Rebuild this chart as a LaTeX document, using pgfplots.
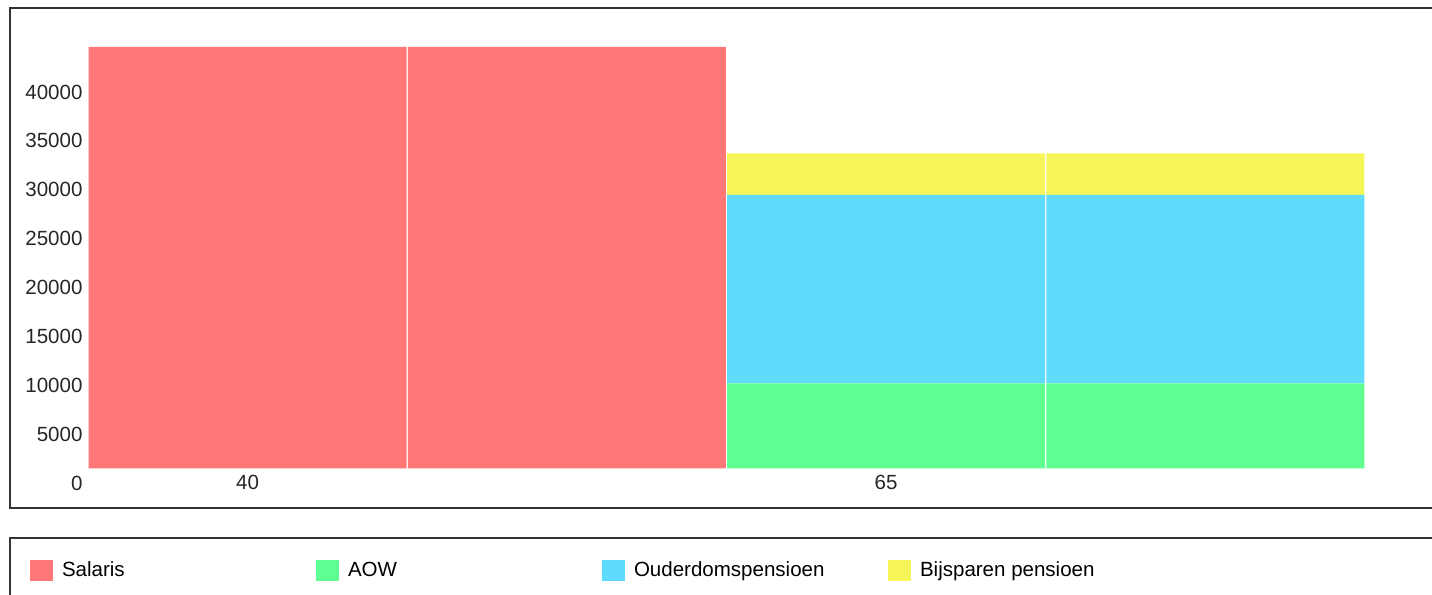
\documentclass[border=0pt]{standalone}
\usepackage{pgfplots}
\pgfplotsset{compat=1.18}
\usepackage{fontspec}
\setmainfont{Liberation Sans}
\definecolor{salaris}{HTML}{FF7777}
\definecolor{aow}{HTML}{60FF92}
\definecolor{ouderdom}{HTML}{5EDBFF}
\definecolor{bijsparen}{HTML}{F5F55A}
\definecolor{framec}{HTML}{333333}
\newcommand{\chartfont}{\fontsize{20.6}{24}\selectfont}
\begin{document}
\begin{tikzpicture}
\useasboundingbox (0,0) rectangle (1432bp,595bp);
% outer chart frame and legend frame (both run past the right edge)
\draw[line width=1.6bp, framec] (10bp,87bp) rectangle (1460bp,587bp);
\draw[line width=1.6bp, framec] (10bp,-30bp) rectangle (1460bp,57bp);
\begin{axis}[
  at={(88bp,126.7bp)}, anchor=south west, scale only axis,
  width=1277bp, height=439.9bp,
  xmin=-0.5, xmax=3.5, ymin=0, ymax=45000,
  ybar stacked, bar width=0.996,
  axis line style={draw=none}, tick style={draw=none},
  xtick={0,1,2,3}, xticklabels={40,,65,},
  ytick={0,5000,...,40000}, scaled y ticks=false,
  yticklabel style={yshift=-14.7bp, xshift=-2bp},
  xticklabel style={yshift=-3bp},
  font=\chartfont,
  tick label style={text=black!85},
  /pgf/number format/1000 sep={},
  /pgf/number format/assume math mode=true,
  legend columns=4,
  legend style={at={(-0.0454,-0.2316)}, anchor=west, draw=none, fill=none,
    inner sep=0pt, outer sep=0pt, font=\chartfont,
    nodes={inner sep=0pt},
    /tikz/every odd column/.append style={column sep=9bp}},
  legend image code/.code={\fill[#1] (0bp,-10.5bp) rectangle (23bp,10.5bp);},
]
\addplot[fill=salaris, draw=none] coordinates {(0,43100) (1,43100) (2,0) (3,0)};
\addlegendentry{\makebox[254bp][l]{Salaris}}
\addplot[fill=aow, draw=none] coordinates {(0,0) (1,0) (2,8700) (3,8700)};
\addlegendentry{\makebox[254bp][l]{AOW}}
\addplot[fill=ouderdom, draw=none] coordinates {(0,0) (1,0) (2,19260) (3,19260)};
\addlegendentry{\makebox[254bp][l]{Ouderdomspensioen}}
\addplot[fill=bijsparen, draw=none] coordinates {(0,0) (1,0) (2,4260) (3,4260)};
\addlegendentry{\makebox[254bp][l]{Bijsparen pensioen}}
\end{axis}
\end{tikzpicture}
\end{document}
